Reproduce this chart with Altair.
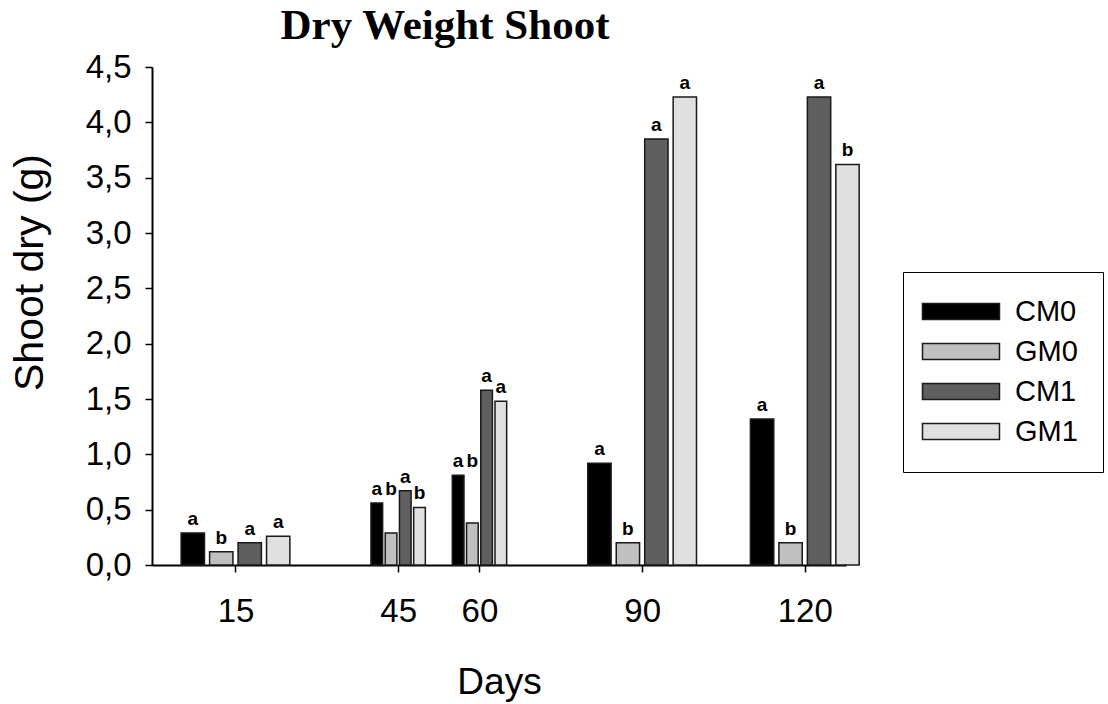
import altair as alt
import pandas as pd

days = [15, 45, 60, 90, 120]
series = ["CM0", "GM0", "CM1", "GM1"]
CM0 = [0.29, 0.56, 0.81, 0.92, 1.32]
GM0 = [0.12, 0.29, 0.38, 0.20, 0.20]
CM1 = [0.20, 0.67, 1.58, 3.85, 4.23]
GM1 = [0.26, 0.52, 1.48, 4.23, 3.62]
CM0_sig = ["a", "a", "a", "a", "a"]
GM0_sig = ["b", "b", "b", "b", "b"]
CM1_sig = ["a", "a", "a", "a", "a"]
GM1_sig = ["a", "b", "a", "a", "b"]
y_ticks = [0, 0.5, 1.0, 1.5, 2.0, 2.5, 3.0, 3.5, 4.0, 4.5]

colors = ["#000000", "#c0c0c0", "#5f5f5f", "#e0e0e0"]

values = {"CM0": CM0, "GM0": GM0, "CM1": CM1, "GM1": GM1}
sigs = {"CM0": CM0_sig, "GM0": GM0_sig, "CM1": CM1_sig, "GM1": GM1_sig}

rows = []
for di, d in enumerate(days):
    gaps = []
    if di > 0:
        gaps.append(d - days[di - 1])
    if di < len(days) - 1:
        gaps.append(days[di + 1] - d)
    narrow = min(gaps) < 20
    pitch = 0.175 * min(gaps)
    width = 0.82 * pitch
    prev_label = None
    for si, s in enumerate(series):
        c = d + (si - 1.5) * pitch
        v = values[s][di]
        label_y = v
        # in crowded groups a much shorter bar's letter shares its left neighbour's height
        if narrow and prev_label is not None and prev_label - v > 0.2:
            label_y = prev_label
        rows.append({
            "day": d, "series": s, "value": v, "sig": sigs[s][di],
            "label_y": label_y,
            "xc": c, "x0": c - width / 2, "x1": c + width / 2, "order": si,
        })
        prev_label = label_y
df = pd.DataFrame(rows)

xscale = alt.Scale(domain=[-0.4, 127.6], nice=False, zero=False)
yscale = alt.Scale(domain=[0, 4.5], nice=False)

bars = alt.Chart(df).mark_bar(stroke="#1a1a1a", strokeWidth=1.5).encode(
    x=alt.X("x0:Q", scale=xscale,
            axis=alt.Axis(values=days, title="Days", labelPadding=23, titlePadding=36,
                          labelFontSize=33, titleFontSize=37, format="d")),
    x2="x1:Q",
    y=alt.Y("value:Q", scale=yscale,
            axis=alt.Axis(values=y_ticks, title="Shoot dry (g)",
                          labelExpr="replace(format(datum.value, '.1f'), '.', ',')",
                          labelPadding=14, labelFontSize=33, titleFontSize=41,
                          titleX=-122, titleY=205, titleBaseline="middle")),
    y2=alt.datum(0),
    color=alt.Color("series:N", scale=alt.Scale(domain=series, range=colors),
                    legend=alt.Legend(
                        title=None, orient="none", legendX=751, legendY=205,
                        symbolType="M-2,-0.8L5.7,-0.8L5.7,0.8L-2,0.8Z",
                        symbolSize=400, symbolStrokeColor="#1a1a1a",
                        symbolStrokeWidth=1.5, symbolOpacity=1,
                        labelOffset=58, labelFontSize=29, labelFont="Liberation Sans",
                        labelColor="black", rowPadding=10, padding=25,
                        strokeColor="black", fillColor="white")),
    order="order:Q",
)

labels = alt.Chart(df).mark_text(
    font="Liberation Sans", fontWeight="bold", fontSize=19, baseline="alphabetic",
    dy=-8, color="black"
).encode(
    x=alt.X("xc:Q", scale=xscale),
    y=alt.Y("label_y:Q", scale=yscale),
    text="sig:N",
)

chart = alt.layer(bars, labels).properties(
    width=694, height=498,
    padding={"left": 152, "top": 67, "right": 262, "bottom": 139},
    autosize=alt.AutoSizeParams(type="none"),
    title=alt.TitleParams("Dry Weight Shoot", font="Liberation Serif", fontWeight="bold",
                          fontSize=43, color="black", anchor="middle", dx=-54, offset=3),
).configure_view(stroke=None).configure_axis(
    grid=False, domainColor="black", domainWidth=2, tickColor="black", tickWidth=1.5,
    tickSize=7, labelColor="black", titleColor="black", labelFont="Liberation Sans",
    titleFont="Liberation Sans", titleFontWeight="normal",
)

chart.save("out.html", embed_options={"renderer": "svg", "actions": False})
